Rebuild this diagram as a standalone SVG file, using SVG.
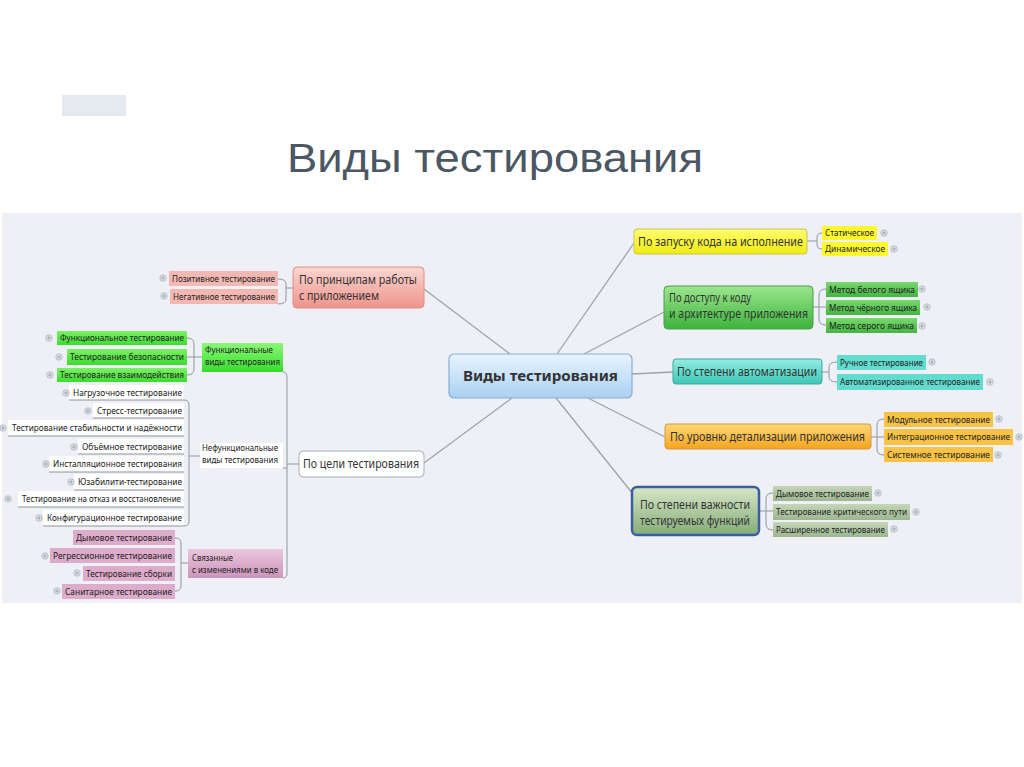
<svg xmlns="http://www.w3.org/2000/svg" width="1024" height="767" viewBox="0 0 1024 767">
<defs>
<linearGradient id="gBlue" x1="0" y1="0" x2="0" y2="1"><stop offset="0" stop-color="#e8f4ff"/><stop offset="1" stop-color="#a9d0f2"/></linearGradient>
<linearGradient id="gPink" x1="0" y1="0" x2="0" y2="1"><stop offset="0" stop-color="#fbd6d0"/><stop offset="1" stop-color="#ee948c"/></linearGradient>
<linearGradient id="gYellow" x1="0" y1="0" x2="0" y2="1"><stop offset="0" stop-color="#fffc70"/><stop offset="1" stop-color="#f2ec10"/></linearGradient>
<linearGradient id="gGreen" x1="0" y1="0" x2="0" y2="1"><stop offset="0" stop-color="#9ce68e"/><stop offset="1" stop-color="#3cb43c"/></linearGradient>
<linearGradient id="gTeal" x1="0" y1="0" x2="0" y2="1"><stop offset="0" stop-color="#92eee2"/><stop offset="1" stop-color="#3ec6b6"/></linearGradient>
<linearGradient id="gOrange" x1="0" y1="0" x2="0" y2="1"><stop offset="0" stop-color="#ffd878"/><stop offset="1" stop-color="#f3a41e"/></linearGradient>
<linearGradient id="gImp" x1="0" y1="0" x2="0" y2="1"><stop offset="0" stop-color="#d6e6c8"/><stop offset="1" stop-color="#86ac78"/></linearGradient>
<linearGradient id="gFunc" x1="0" y1="0" x2="0" y2="1"><stop offset="0" stop-color="#8cf878"/><stop offset="1" stop-color="#36dc2c"/></linearGradient>
<linearGradient id="gRel" x1="0" y1="0" x2="0" y2="1"><stop offset="0" stop-color="#ecc6dc"/><stop offset="1" stop-color="#cc94bc"/></linearGradient>
<linearGradient id="cGreen" x1="0" y1="0" x2="0" y2="1"><stop offset="0" stop-color="#7ad86e"/><stop offset="1" stop-color="#44b444"/></linearGradient>
<linearGradient id="cImp" x1="0" y1="0" x2="0" y2="1"><stop offset="0" stop-color="#c4d6b8"/><stop offset="1" stop-color="#9cb690"/></linearGradient>
<linearGradient id="cFunc" x1="0" y1="0" x2="0" y2="1"><stop offset="0" stop-color="#7cf066"/><stop offset="1" stop-color="#3cdc30"/></linearGradient>
<g id="knob"><circle r="3.2" fill="#dfe3ea" stroke="#aab2be" stroke-width="0.8"/><path d="M-1.8 0H1.8M0 -1.8V1.8" stroke="#8892a0" stroke-width="0.7"/></g>
</defs>
<style>
.con{fill:none;stroke:#9ba4ae;stroke-width:1.3}
.br{fill:none;stroke:#8f969e;stroke-width:1}
.t9{font-family:"Noto Sans","Liberation Sans",sans-serif;font-size:9px;fill:#222}
.t12{font-family:"Noto Sans","Liberation Sans",sans-serif;font-size:12px;fill:#333}
.ul{stroke:#8c939b;stroke-width:1}
</style>
<rect width="1024" height="767" fill="#ffffff"/>
<rect x="62" y="95" width="64" height="21" fill="#e5e9f0"/>
<text x="287" y="172" font-family="Liberation Sans, Arial, sans-serif" font-size="40" fill="#4b5763" textLength="416" lengthAdjust="spacingAndGlyphs">Виды тестирования</text>
<rect x="2" y="213" width="1020" height="390" fill="#eef0f6"/>

<g id="connectors">
<path class="con" d="M510 354L424 289"/>
<path class="con" d="M512 398L424 463"/>
<path class="con" d="M557 354L634 243"/>
<path class="con" d="M584 354L664 312"/>
<path class="con" d="M632 374L673 372"/>
<path class="con" d="M588 398L665 437"/>
<path class="con" d="M556 398L633 494"/>
<path class="br" d="M822 233Q817 233 817 238L817 244Q817 249 822 249M807 241L817 241"/>
<path class="br" d="M826 289Q819 289 819 295L819 319Q819 325 826 325M813 307L826 307"/>
<path class="br" d="M837 362Q829 362 829 367L829 377Q829 382 837 382M822 372L829 372"/>
<path class="br" d="M884 419Q877 419 877 425L877 449Q877 455 884 455M871 437L884 437"/>
<path class="br" d="M773 493Q766 493 766 499L766 524Q766 530 773 530M759 511L773 511"/>
<path class="br" d="M278 279Q286 279 286 284L286 299Q286 304 278 304M286 288L293 288"/>
<path class="br" d="M187 338Q194 338 194 344L194 369Q194 375 187 375M187 357L202 357"/>
<path class="br" d="M184 400Q189 400 189 405L189 521Q189 526 184 526M189 456L200 456"/>
<path class="br" d="M175 538Q181 538 181 543L181 586Q181 591 175 591M181 563L188 563"/>
<path class="br" d="M283 372Q287 372 287 377L287 573Q287 578 283 578M283 468L287 468M287 464L299 464"/>
</g>

<g id="center"><rect x="449" y="354" width="183" height="44" rx="5" fill="url(#gBlue)" stroke="#86aed4" stroke-width="1.2"/><text x="463" y="381" font-family="Noto Sans, Liberation Sans, sans-serif" font-size="15" font-weight="bold" fill="#333" textLength="155" lengthAdjust="spacingAndGlyphs">Виды тестирования</text></g>

<g id="n-principles"><rect x="293" y="267" width="131" height="41" rx="4" fill="url(#gPink)" stroke="#de8e86"/><text class="t12" x="299" y="284" font-size="11.5" textLength="118" lengthAdjust="spacingAndGlyphs">По принципам работы</text><text class="t12" x="299" y="300" font-size="11.5" textLength="80" lengthAdjust="spacingAndGlyphs">с приложением</text></g>
<g id="n-positive"><rect x="169" y="271" width="109" height="15" fill="#f4b8b2"/><text class="t9" x="172" y="281.5" textLength="103" lengthAdjust="spacingAndGlyphs">Позитивное тестирование</text><use href="#knob" x="163" y="278"/></g>
<g id="n-negative"><rect x="170" y="289" width="108" height="15" fill="#f4b8b2"/><text class="t9" x="173" y="299.5" textLength="102" lengthAdjust="spacingAndGlyphs">Негативное тестирование</text><use href="#knob" x="164" y="296"/></g>

<g id="n-goal"><rect x="299" y="451" width="125" height="26" rx="4" fill="#ffffff" stroke="#a8aeb6"/><text class="t12" x="303" y="468" textLength="116" lengthAdjust="spacingAndGlyphs">По цели тестирования</text></g>

<g id="n-func"><rect x="202" y="343" width="81" height="29" fill="url(#gFunc)"/><text class="t9" x="205" y="353" textLength="68" lengthAdjust="spacingAndGlyphs">Функциональные</text><text class="t9" x="205" y="365" textLength="75" lengthAdjust="spacingAndGlyphs">виды тестирования</text></g>
<g id="n-f1"><rect x="57" y="331" width="130" height="14" fill="url(#cFunc)"/><text class="t9" x="60" y="341" textLength="124" lengthAdjust="spacingAndGlyphs">Функциональное тестирование</text><use href="#knob" x="49" y="338"/></g>
<g id="n-f2"><rect x="67" y="349" width="120" height="16" fill="url(#cFunc)"/><text class="t9" x="70" y="360" textLength="114" lengthAdjust="spacingAndGlyphs">Тестирование безопасности</text><use href="#knob" x="59" y="357"/></g>
<g id="n-f3"><rect x="57" y="368" width="130" height="14" fill="url(#cFunc)"/><text class="t9" x="60" y="378" textLength="124" lengthAdjust="spacingAndGlyphs">Тестирование взаимодействия</text><use href="#knob" x="50" y="375"/></g>

<g id="n-nonfunc"><rect x="200" y="443" width="83" height="25" fill="#ffffff"/><text class="t9" x="202" y="451" textLength="76" lengthAdjust="spacingAndGlyphs">Нефункциональные</text><text class="t9" x="202" y="463" textLength="76" lengthAdjust="spacingAndGlyphs">виды тестирования</text></g>
<g id="n-nf1"><rect x="69" y="385" width="115" height="15" fill="#fff"/><line class="ul" x1="69" y1="400" x2="184" y2="400"/><text class="t9" x="73" y="396" textLength="109" lengthAdjust="spacingAndGlyphs">Нагрузочное тестирование</text><use href="#knob" x="66" y="393"/></g>
<g id="n-nf2"><rect x="93" y="403" width="91" height="15" fill="#fff"/><line class="ul" x1="93" y1="418" x2="184" y2="418"/><text class="t9" x="97" y="414" textLength="85" lengthAdjust="spacingAndGlyphs">Стресс-тестирование</text><use href="#knob" x="88" y="411"/></g>
<g id="n-nf3"><rect x="8" y="420" width="176" height="16" fill="#fff"/><line class="ul" x1="8" y1="436" x2="184" y2="436"/><text class="t9" x="12" y="431" textLength="170" lengthAdjust="spacingAndGlyphs">Тестирование стабильности и надёжности</text><use href="#knob" x="3" y="428"/></g>
<g id="n-nf4"><rect x="78" y="439" width="106" height="15" fill="#fff"/><line class="ul" x1="78" y1="454" x2="184" y2="454"/><text class="t9" x="82" y="450" textLength="100" lengthAdjust="spacingAndGlyphs">Объёмное тестирование</text><use href="#knob" x="74" y="447"/></g>
<g id="n-nf5"><rect x="49" y="456" width="135" height="16" fill="#fff"/><line class="ul" x1="49" y1="472" x2="184" y2="472"/><text class="t9" x="53" y="467" textLength="129" lengthAdjust="spacingAndGlyphs">Инсталляционное тестирования</text><use href="#knob" x="46" y="464"/></g>
<g id="n-nf6"><rect x="74" y="474" width="110" height="16" fill="#fff"/><line class="ul" x1="74" y1="490" x2="184" y2="490"/><text class="t9" x="78" y="485" textLength="104" lengthAdjust="spacingAndGlyphs">Юзабилити-тестирование</text><use href="#knob" x="71" y="482"/></g>
<g id="n-nf7"><rect x="18" y="491" width="166" height="16" fill="#fff"/><line class="ul" x1="18" y1="507" x2="184" y2="507"/><text class="t9" x="22" y="502" textLength="159" lengthAdjust="spacingAndGlyphs">Тестирование на отказ и восстановление</text><use href="#knob" x="8" y="499"/></g>
<g id="n-nf8"><rect x="43" y="510" width="141" height="16" fill="#fff"/><line class="ul" x1="43" y1="526" x2="184" y2="526"/><text class="t9" x="47" y="521" textLength="135" lengthAdjust="spacingAndGlyphs">Конфигурационное тестирование</text><use href="#knob" x="39" y="518"/></g>

<g id="n-related"><rect x="188" y="549" width="95" height="29" fill="url(#gRel)"/><text class="t9" x="192" y="561" textLength="41" lengthAdjust="spacingAndGlyphs">Связанные</text><text class="t9" x="192" y="573" textLength="86" lengthAdjust="spacingAndGlyphs">с изменениями в коде</text></g>
<g id="n-r1"><rect x="73" y="530" width="102" height="15" fill="#ddaccb"/><text class="t9" x="76" y="541" textLength="96" lengthAdjust="spacingAndGlyphs">Дымовое тестирование</text></g>
<g id="n-r2"><rect x="50" y="548" width="125" height="15" fill="#ddaccb"/><text class="t9" x="53" y="559" textLength="119" lengthAdjust="spacingAndGlyphs">Регрессионное тестирование</text><use href="#knob" x="45" y="556"/></g>
<g id="n-r3"><rect x="83" y="566" width="92" height="15" fill="#ddaccb"/><text class="t9" x="86" y="577" textLength="86" lengthAdjust="spacingAndGlyphs">Тестирование сборки</text><use href="#knob" x="77" y="573"/></g>
<g id="n-r4"><rect x="62" y="584" width="113" height="15" fill="#ddaccb"/><text class="t9" x="65" y="595" textLength="107" lengthAdjust="spacingAndGlyphs">Санитарное тестирование</text><use href="#knob" x="57" y="591"/></g>

<g id="n-launch"><rect x="634" y="229" width="173" height="25" rx="3" fill="url(#gYellow)" stroke="#c9c25a"/><text class="t12" x="638" y="245.5" textLength="165" lengthAdjust="spacingAndGlyphs">По запуску кода на исполнение</text></g>
<g id="n-static"><rect x="822" y="226" width="55" height="14" fill="#fdf830"/><text class="t9" x="825" y="236" textLength="49" lengthAdjust="spacingAndGlyphs">Статическое</text><use href="#knob" x="884" y="233"/></g>
<g id="n-dynamic"><rect x="822" y="242" width="66" height="14" fill="#fdf830"/><text class="t9" x="825" y="252" textLength="60" lengthAdjust="spacingAndGlyphs">Динамическое</text><use href="#knob" x="894" y="249"/></g>

<g id="n-access"><rect x="664" y="286" width="149" height="43" rx="4" fill="url(#gGreen)" stroke="#4d9c4d"/><text class="t12" x="669" y="302" textLength="82" lengthAdjust="spacingAndGlyphs">По доступу к коду</text><text class="t12" x="669" y="318" textLength="139" lengthAdjust="spacingAndGlyphs">и архитектуре приложения</text></g>
<g id="n-white"><rect x="826" y="282" width="92" height="15" fill="url(#cGreen)"/><text class="t9" x="829" y="292.5" textLength="86" lengthAdjust="spacingAndGlyphs">Метод белого ящика</text><use href="#knob" x="922" y="289"/></g>
<g id="n-black"><rect x="826" y="300" width="94" height="15" fill="url(#cGreen)"/><text class="t9" x="829" y="310.5" textLength="88" lengthAdjust="spacingAndGlyphs">Метод чёрного ящика</text><use href="#knob" x="927" y="307"/></g>
<g id="n-gray"><rect x="826" y="318" width="91" height="15" fill="url(#cGreen)"/><text class="t9" x="829" y="328.5" textLength="85" lengthAdjust="spacingAndGlyphs">Метод серого ящика</text><use href="#knob" x="922" y="326"/></g>

<g id="n-auto"><rect x="673" y="359" width="149" height="25" rx="3" fill="url(#gTeal)" stroke="#3fa89c"/><text class="t12" x="677" y="376" textLength="140" lengthAdjust="spacingAndGlyphs">По степени автоматизации</text></g>
<g id="n-manual"><rect x="837" y="355" width="89" height="15" fill="#62dccf"/><text class="t9" x="840" y="365.5" textLength="83" lengthAdjust="spacingAndGlyphs">Ручное тестирование</text><use href="#knob" x="932" y="362"/></g>
<g id="n-automated"><rect x="837" y="374" width="146" height="16" fill="#62dccf"/><text class="t9" x="840" y="385" textLength="140" lengthAdjust="spacingAndGlyphs">Автоматизированное тестирование</text><use href="#knob" x="990" y="382"/></g>

<g id="n-detail"><rect x="665" y="424" width="206" height="25" rx="3" fill="url(#gOrange)" stroke="#d39a3a"/><text class="t12" x="670" y="441" textLength="195" lengthAdjust="spacingAndGlyphs">По уровню детализации приложения</text></g>
<g id="n-unit"><rect x="884" y="412" width="109" height="15" fill="#f8c244"/><text class="t9" x="887" y="422.5" textLength="103" lengthAdjust="spacingAndGlyphs">Модульное тестирование</text><use href="#knob" x="999" y="419"/></g>
<g id="n-integr"><rect x="884" y="429" width="129" height="16" fill="#f8c244"/><text class="t9" x="887" y="440" textLength="123" lengthAdjust="spacingAndGlyphs">Интеграционное тестирование</text><use href="#knob" x="1019" y="437"/></g>
<g id="n-system"><rect x="884" y="447" width="109" height="15" fill="#f8c244"/><text class="t9" x="887" y="458" textLength="103" lengthAdjust="spacingAndGlyphs">Системное тестирование</text><use href="#knob" x="998" y="455"/></g>

<g id="n-importance"><rect x="632" y="487" width="127" height="48" rx="5" fill="url(#gImp)" stroke="#3a5e9e" stroke-width="2.5"/><text class="t12" x="640" y="509" fill="#444" textLength="110" lengthAdjust="spacingAndGlyphs">По степени важности</text><text class="t12" x="640" y="525" fill="#444" textLength="110" lengthAdjust="spacingAndGlyphs">тестируемых функций</text></g>
<g id="n-smoke"><rect x="773" y="486" width="99" height="15" fill="url(#cImp)"/><text class="t9" x="776" y="496.5" textLength="93" lengthAdjust="spacingAndGlyphs">Дымовое тестирование</text><use href="#knob" x="878" y="493"/></g>
<g id="n-critical"><rect x="773" y="504" width="137" height="16" fill="url(#cImp)"/><text class="t9" x="776" y="515" textLength="131" lengthAdjust="spacingAndGlyphs">Тестирование критического пути</text><use href="#knob" x="916" y="512"/></g>
<g id="n-extended"><rect x="773" y="522" width="115" height="15" fill="url(#cImp)"/><text class="t9" x="776" y="533" textLength="109" lengthAdjust="spacingAndGlyphs">Расширенное тестирование</text><use href="#knob" x="894" y="529"/></g>
</svg>
